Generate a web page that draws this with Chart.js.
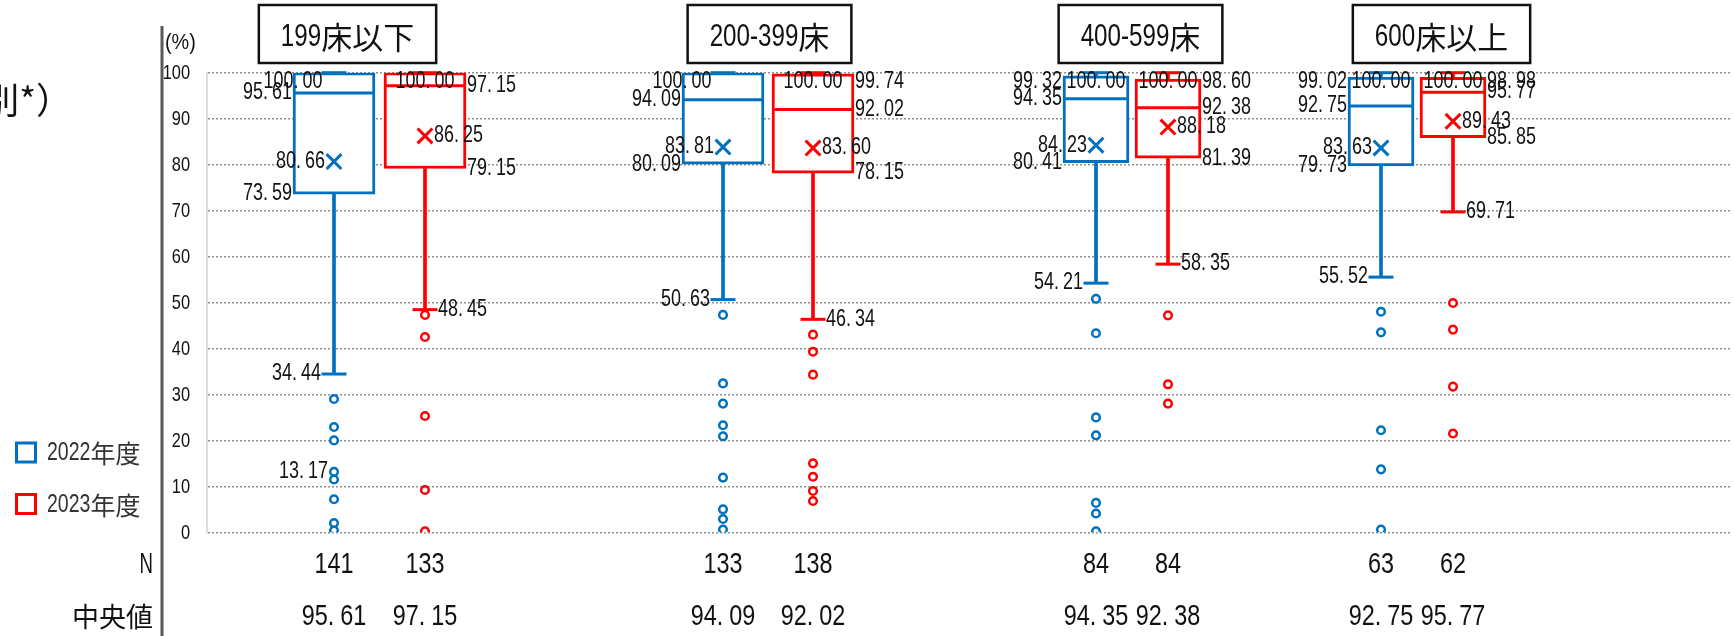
<!DOCTYPE html>
<html lang="ja">
<head>
<meta charset="utf-8">
<script src="https://cdn.jsdelivr.net/npm/chart.js@4"></script>
<style>
  html, body { margin: 0; padding: 0; background: #fff; }
  #wrap { position: relative; width: 1734px; height: 636px; overflow: hidden; }
  #wrap canvas { position: absolute; left: 0; top: 0; }
</style>
</head>
<body>
<div id="wrap">
  <canvas id="base" width="1734" height="636"></canvas>
  <canvas id="g0" width="1734" height="636"></canvas>
  <canvas id="g1" width="1734" height="636"></canvas>
  <canvas id="g2" width="1734" height="636"></canvas>
  <canvas id="g3" width="1734" height="636"></canvas>
</div>
<script>
// ---- data (per group: [2022, 2023]) ----
const groups = ['199床以下', '200-399床', '400-599床', '600床以上'];
const years = ['2022年度', '2023年度'];
const nCounts = [[141, 133], [133, 138], [84, 84], [63, 62]];
const maxVals = [[100, 100], [100, 100], [100, 100], [100, 100]];
const q3Vals = [[100, 100], [100, 99.74], [99.32, 98.60], [99.02, 98.98]];
const medians = [[95.61, 97.15], [94.09, 92.02], [94.35, 92.38], [92.75, 95.77]];
const means = [[80.66, 86.25], [83.81, 83.60], [84.23, 88.18], [83.63, 89.43]];
const q1Vals = [[73.59, 79.15], [80.09, 78.15], [80.41, 81.39], [79.73, 85.85]];
const minVals = [[34.44, 48.45], [50.63, 46.34], [54.21, 58.35], [55.52, 69.71]];
const outliers = [
  [[29.0, 22.9, 20.0, 13.17, 11.5, 7.2, 2.0, 0.4], [47.3, 42.5, 25.3, 9.2, 0.2]],
  [[47.3, 32.4, 28.0, 23.3, 20.9, 11.9, 5.0, 2.9, 0.6], [43.0, 39.3, 34.3, 15.0, 12.1, 9.0, 6.8]],
  [[50.8, 43.3, 25.0, 21.1, 6.4, 4.1, 0.2], [47.2, 32.2, 28.0]],
  [[48.0, 43.5, 22.2, 13.7, 0.6], [49.9, 44.1, 31.7, 21.5]]
];
const outlierLabels = [[[13.17], []], [[], []], [[], []], [[], []]];
const yTicks = [0, 10, 20, 30, 40, 50, 60, 70, 80, 90, 100];

// ---- look ----
const LATIN = "'Liberation Sans', Arimo, sans-serif";
const CJK = "'Noto Sans CJK JP', sans-serif";
const SX = 0.78; // narrow latin glyphs like the original
const colors = ['#0070c0', '#ff0000'];
const INK = '#111';
const W = 1734, H = 636;
const TOP = 72.7, BOTTOM = 532.3;
const ROW_N = 565, ROW_MED = 617;

// box pair centre, distance between the two boxes, box width, title centre
const groupCenter = [379.5, 768, 1132, 1417];
const slot = [91, 90, 72, 72];
const boxW = [82, 82, 66, 66];
const titleCenter = [347.5, 769.5, 1140.5, 1441.5];

// text with condensed latin and normal CJK glyphs
function drawText(ctx, text, x, y, size, align, sx = SX, dotGap = 0) {
  const parts = [];
  for (const ch of text) {
    const cjk = /[\u3000-\u9fff\uff00-\uffef]/.test(ch);
    ctx.font = `${size}px ${cjk ? CJK : LATIN}`;
    const w = ctx.measureText(ch).width * (cjk ? 1 : sx) + (ch === '.' ? dotGap : 0);
    parts.push({ ch, cjk, w });
  }
  const total = parts.reduce((a, p) => a + p.w, 0);
  let cur = align === 'right' ? x - total : align === 'center' ? x - total / 2 : x;
  ctx.textAlign = 'left';
  ctx.textBaseline = 'middle';
  parts.forEach(p => {
    ctx.font = `${size}px ${p.cjk ? CJK : LATIN}`;
    ctx.save();
    ctx.translate(cur, y);
    if (!p.cjk) ctx.scale(sx, 1);
    ctx.fillText(p.ch, 0, 0);
    ctx.restore();
    cur += p.w;
  });
  return total;
}

const baseDecor = {
  id: 'baseDecor',
  afterDraw(chart) {
    const ctx = chart.ctx;
    const ys = chart.scales.y;
    const x0 = ys.left;
    ctx.save();
    ctx.strokeStyle = '#595959';
    ctx.lineWidth = 3;
    ctx.beginPath(); ctx.moveTo(x0, 26); ctx.lineTo(x0, H); ctx.stroke();

    ctx.fillStyle = INK;
    // y tick labels
    ys.ticks.forEach(t => drawText(ctx, String(t.value), x0 + 28, ys.getPixelForValue(t.value) + 1, 21, 'right'));
    drawText(ctx, '(%)', x0 + 3, 43, 22, 'left', 0.9);

    ctx.font = `36px ${CJK}`;
    ctx.textAlign = 'right';
    ctx.textBaseline = 'middle';
    ctx.fillText('別*）', 72, 100);

    // row headers
    drawText(ctx, 'N', x0 - 9, ROW_N, 30, 'right', 0.62);
    drawText(ctx, '中央値', x0 - 9, ROW_MED, 27, 'right');

    // legend
    years.forEach((yr, k) => {
      const cy = 452.5 + k * 51.5;
      ctx.strokeStyle = colors[k];
      ctx.lineWidth = 3;
      ctx.strokeRect(16.5, cy - 9.5, 19, 19);
      ctx.fillStyle = '#333';
      drawText(ctx, yr, 47, cy + 1, 25, 'left');
    });
    ctx.restore();
  }
};

new Chart(document.getElementById('base'), {
  type: 'scatter',
  data: { datasets: [] },
  options: {
    responsive: false,
    animation: false,
    layout: { padding: { left: 162, right: 4, top: TOP, bottom: H - BOTTOM } },
    plugins: { legend: { display: false }, tooltip: { enabled: false } },
    scales: {
      x: { display: false, min: 0, max: 1 },
      y: {
        min: 0, max: 100,
        afterFit: sc => { sc.width = 45; },
        afterBuildTicks: sc => { sc.ticks = yTicks.map(v => ({ value: v })); },
        ticks: { display: false },
        grid: { color: '#8f8f8f', lineWidth: 1.5, drawTicks: false },
        border: { display: true, color: '#dcdcdc', width: 2, dash: [2, 2] }
      }
    }
  },
  plugins: [baseDecor]
});

const boxLabels = {
  id: 'boxLabels',
  afterDatasetsDraw(chart, args, opts) {
    const g = opts.group;
    const ctx = chart.ctx, xs = chart.scales.x, ys = chart.scales.y;
    const half = boxW[g] / 2;
    const yPix = v => Math.max(ys.getPixelForValue(v), TOP + 9);
    ctx.save();
    ctx.fillStyle = INK;
    const put = (v, x, align) => drawText(ctx, v.toFixed(2), x, yPix(v), 23, align, SX, 4);
    years.forEach((yr, k) => {
      const cx = xs.getPixelForValue(k);
      const side = k === 0 ? -1 : 1;
      const align = k === 0 ? 'right' : 'left';
      const edge = cx + side * (half + 1);
      const mx = maxVals[g][k], q3 = q3Vals[g][k];
      if (q3 !== mx) put(q3, edge, align);
      put(medians[g][k], edge, align);
      put(q1Vals[g][k], edge, align);
      put(means[g][k], cx + side * 9, align);
      put(minVals[g][k], cx + side * 13, align);
      put(mx, (k === 0 && q3 === mx) ? cx - half : cx, 'center');
      outlierLabels[g][k].forEach(v => put(v, cx + side * 6, align));

      // N and median rows under the plot
      drawText(ctx, String(nCounts[g][k]), cx, ROW_N, 30, 'center');
      drawText(ctx, medians[g][k].toFixed(2), cx, ROW_MED, 30, 'center', SX, 6);
    });

    // group title box
    const tcx = titleCenter[g];
    const probe = document.createElement('canvas').getContext('2d');
    const tw = drawText(probe, groups[g], 0, 0, 31, 'left');
    const bw = tw + 44;
    ctx.fillStyle = '#fff';
    ctx.fillRect(tcx - bw / 2, 5, bw, 58);
    ctx.strokeStyle = '#111';
    ctx.lineWidth = 2.5;
    ctx.strokeRect(tcx - bw / 2, 5, bw, 58);
    ctx.fillStyle = '#111';
    drawText(ctx, groups[g], tcx, 37, 31, 'center');
    ctx.restore();
  }
};

function groupChart(g) {
  const datasets = [];
  years.forEach((yr, k) => {
    const col = colors[k];
    const at = v => ({ x: yr, y: v });
    const only = v => years.map((_, j) => (j === k ? v : null));
    const pts = { type: 'line', showLine: false, pointBorderColor: col, pointBackgroundColor: col };
    datasets.push(
      { ...pts, order: 1, data: [at(means[g][k])], pointStyle: 'crossRot', pointRadius: 10.5, pointBorderWidth: 3 },
      { ...pts, order: 2, data: [at(medians[g][k])], pointStyle: 'line', pointRadius: boxW[g] / 2, pointBorderWidth: 3 },
      { ...pts, order: 2, data: [at(minVals[g][k]), at(maxVals[g][k])], pointStyle: 'line', pointRadius: 12.5, pointBorderWidth: 3, clip: false },
      { ...pts, order: 3, data: outliers[g][k].map(at), pointStyle: 'circle', pointRadius: 3.8, pointBorderWidth: 2.5, pointBackgroundColor: '#fff' },
      { type: 'bar', order: 4, data: only([q1Vals[g][k], q3Vals[g][k]]), grouped: false, barThickness: boxW[g],
        backgroundColor: '#fff', borderColor: col, borderWidth: 3, borderSkipped: false },
      { type: 'bar', order: 5, data: only([minVals[g][k], q1Vals[g][k]]), grouped: false, barThickness: 3, backgroundColor: col, borderWidth: 0 },
      { type: 'bar', order: 5, data: only([q3Vals[g][k], maxVals[g][k]]), grouped: false, barThickness: 3, backgroundColor: col, borderWidth: 0 }
    );
  });

  const c = groupCenter[g], s = slot[g];
  new Chart(document.getElementById('g' + g), {
    type: 'bar',
    data: { labels: years, datasets },
    options: {
      responsive: false,
      animation: false,
      layout: { padding: { left: c - s, right: W - (c + s), top: TOP, bottom: 0 } },
      plugins: { legend: { display: false }, tooltip: { enabled: false }, boxLabels: { group: g } },
      scales: {
        x: {
          type: 'category', offset: true,
          grid: { display: false, drawTicks: false },
          border: { display: false },
          ticks: { display: false },
          afterFit: sc => { sc.height = H - BOTTOM; }
        },
        y: { display: false, min: 0, max: 100 }
      }
    },
    plugins: [boxLabels]
  });
}

groups.forEach((_, g) => groupChart(g));
</script>
</body>
</html>
